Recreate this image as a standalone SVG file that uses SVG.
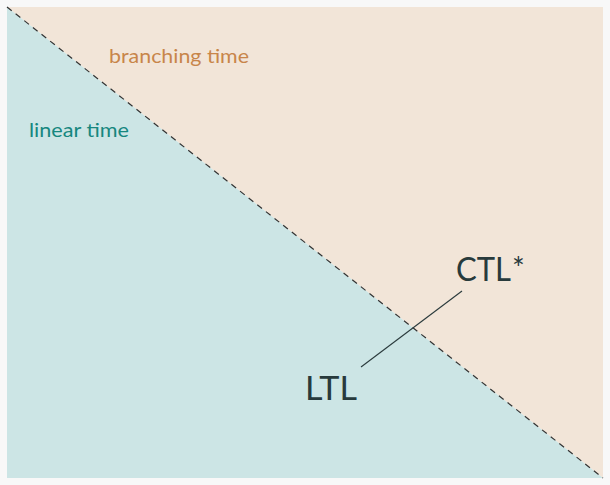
<svg xmlns="http://www.w3.org/2000/svg" width="610" height="485" viewBox="0 0 610 485">
<style>
.lbl{font-family:Lato,"Open Sans","DejaVu Sans",sans-serif}
</style>
<rect x="0" y="0" width="610" height="485" fill="#f8f8f8"/>
<g id="branching">
<polygon points="7,7 603,7 603,478" fill="#f2e5d8"/>
<text class="lbl" x="109" y="63" font-size="20" fill="#c8854a" textLength="140" lengthAdjust="spacingAndGlyphs">branching time</text>
</g>
<g id="linear">
<polygon points="7,7 603,478 7,478" fill="#cce5e5"/>
<text class="lbl" x="29" y="137" font-size="20" fill="#16877f" textLength="100" lengthAdjust="spacingAndGlyphs">linear time</text>
</g>
<g id="connectors">
<line x1="7" y1="7" x2="603" y2="478" stroke="#333" stroke-width="1.2" stroke-dasharray="6,5"/>
<line x1="361" y1="367" x2="462" y2="291" stroke="#2a3a3c" stroke-width="1.1"/>
</g>
<g id="ctl">
<text class="lbl" x="456" y="281" font-size="32" fill="#283a3c"><tspan textLength="55" lengthAdjust="spacingAndGlyphs">CTL</tspan><tspan x="512" font-size="30" dy="-2">*</tspan></text>
</g>
<g id="ltl">
<text class="lbl" x="305" y="400" font-size="32" fill="#283a3c" textLength="52" lengthAdjust="spacingAndGlyphs">LTL</text>
</g>
</svg>
